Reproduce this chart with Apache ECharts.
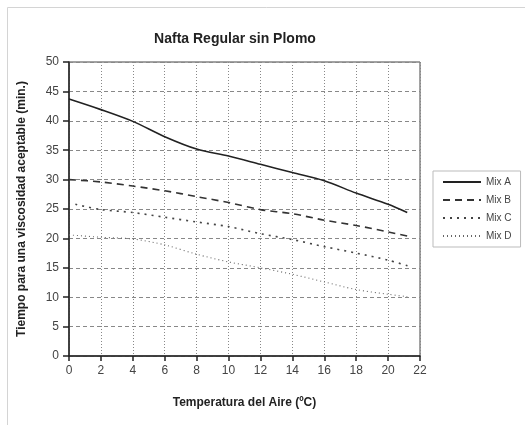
<!DOCTYPE html>
<html>
<head>
<meta charset="utf-8">
<script src="https://cdn.jsdelivr.net/npm/echarts@6/dist/echarts.min.js"></script>
<style>
  html, body { margin: 0; padding: 0; background: #fff; }
  #chart { width: 525px; height: 425px; }
</style>
</head>
<body>
<div id="chart"></div>
<script>
// Temperature (ºC) / time (min.) readings for each mix
const mixA = [[0, 43.7], [2, 41.9], [4, 39.9], [6, 37.3], [8, 35.2], [10, 34.0], [12, 32.6], [14, 31.2], [16, 29.8], [18, 27.7], [20, 25.8], [21.2, 24.4]];
const mixB = [[0, 30.0], [2, 29.6], [4, 28.9], [6, 28.1], [8, 27.1], [10, 26.1], [12, 24.9], [14, 24.2], [16, 23.1], [18, 22.2], [20, 21.1], [21.2, 20.4]];
const mixC = [[0.4, 25.8], [2, 24.9], [4, 24.4], [6, 23.6], [8, 22.8], [10, 22.0], [12, 20.8], [14, 19.8], [16, 18.6], [18, 17.5], [20, 16.3], [21.4, 15.2]];
const mixD = [[0, 20.6], [2, 20.2], [4, 19.9], [6, 18.9], [8, 17.3], [10, 16.0], [12, 15.0], [14, 13.9], [16, 12.6], [18, 11.3], [20, 10.5], [21.2, 10.1]];
const seriesNames = ['Mix A', 'Mix B', 'Mix C', 'Mix D'];

const font = 'Liberation Sans, Arial, sans-serif';
const chart = echarts.init(document.getElementById('chart'));

const styles = [
  { color: '#222', width: 1.6, type: 'solid' },
  { color: '#333', width: 1.6, type: [7, 5] },
  { color: '#444', width: 1.6, type: [2, 5] },
  { color: '#666', width: 1.1, type: [1, 3] }
];
const datasets = [mixA, mixB, mixC, mixD];

chart.setOption({
  backgroundColor: '#fff',
  animation: false,
  graphic: [{
    type: 'rect',
    shape: { x: 7.5, y: 7.5, width: 540, height: 440 },
    style: { fill: 'none', stroke: '#d4d4d4', lineWidth: 1 },
    silent: true
  }],
  title: {
    text: 'Nafta Regular sin Plomo',
    left: 230, top: 27, textAlign: 'center',
    textStyle: { fontFamily: font, fontSize: 14, fontWeight: 'bold', color: '#222' }
  },
  legend: {
    data: seriesNames,
    orient: 'vertical',
    left: 433, top: 171,
    itemWidth: 38, itemHeight: 8, itemGap: 8,
    padding: [6, 9, 6, 9],
    borderColor: '#bbb', borderWidth: 1,
    itemStyle: { opacity: 0 },
    textStyle: { fontFamily: font, fontSize: 10, color: '#444' }
  },
  grid: {
    left: 69, right: 105, top: 62, bottom: 69,
    show: true, borderColor: '#444', borderWidth: 1
  },
  xAxis: {
    type: 'value', min: 0, max: 22, interval: 2,
    name: 'Temperatura del Aire (ºC)',
    nameLocation: 'middle', nameGap: 41,
    nameTextStyle: { fontFamily: font, fontSize: 12, fontWeight: 'bold', color: '#222' },
    axisLine: { lineStyle: { color: '#222', width: 1.5 } },
    axisTick: { show: true, length: 5, lineStyle: { color: '#222', width: 1.5 } },
    axisLabel: { fontFamily: font, fontSize: 12, color: '#444', margin: 9 },
    splitLine: { show: true, lineStyle: { color: '#888', width: 1, type: [1, 2] } }
  },
  yAxis: {
    type: 'value', min: 0, max: 50, interval: 5,
    name: 'Tiempo para una viscosidad aceptable (min.)',
    nameLocation: 'middle', nameGap: 41, nameRotate: 90,
    nameTextStyle: { fontFamily: font, fontSize: 12, fontWeight: 'bold', color: '#222' },
    axisLine: { show: true, lineStyle: { color: '#222', width: 1.5 } },
    axisTick: { show: true, length: 6, lineStyle: { color: '#222', width: 1.5 } },
    axisLabel: { fontFamily: font, fontSize: 12, color: '#444', margin: 10 },
    splitLine: { show: true, lineStyle: { color: '#888', width: 1, type: [4, 3] } }
  },
  series: datasets.map((d, i) => ({
    name: seriesNames[i],
    type: 'line',
    data: d,
    smooth: 0.3,
    symbol: 'none',
    color: styles[i].color,
    lineStyle: styles[i]
  }))
});
</script>
</body>
</html>
